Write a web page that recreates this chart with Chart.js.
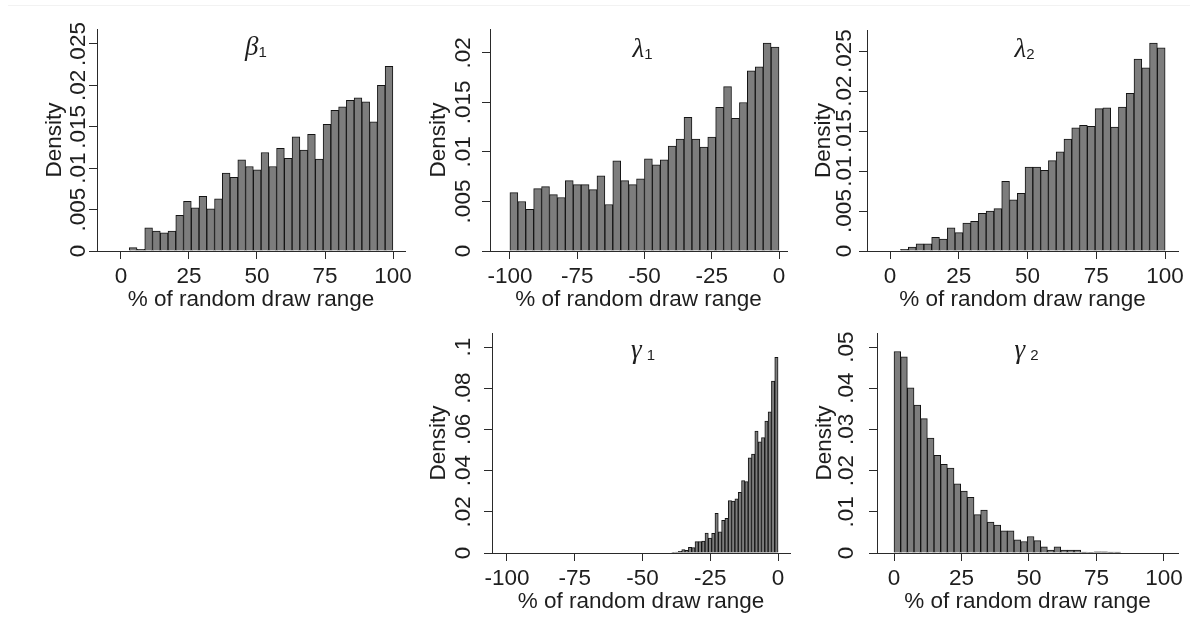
<!DOCTYPE html>
<html><head><meta charset="utf-8">
<script src="https://cdn.jsdelivr.net/npm/chart.js@4.4.1/dist/chart.umd.min.js"></script>
<style>
html,body{margin:0;padding:0;background:#fff;}
body{width:1198px;height:639px;position:relative;overflow:hidden;}
canvas{position:absolute;}
.topline{position:absolute;left:8px;top:5px;width:1182px;height:1px;background:#f2f2f2;}
</style></head><body>
<div class="topline"></div>
<canvas id="p1"></canvas>
<canvas id="p2"></canvas>
<canvas id="p3"></canvas>
<canvas id="p4"></canvas>
<canvas id="p5"></canvas>
<script>
// ---------- data (densities) ----------
const beta1Density = [0.0004, 0.0002, 0.0028, 0.0024, 0.0022, 0.0024, 0.0043, 0.0060, 0.0052, 0.0066,
  0.0051, 0.0063, 0.0094, 0.0089, 0.0110, 0.0102, 0.0098, 0.0119, 0.0102, 0.0124,
  0.0112, 0.0138, 0.0122, 0.0141, 0.0111, 0.0153, 0.0170, 0.0174, 0.0182, 0.0185,
  0.0180, 0.0156, 0.0200, 0.0223];
const beta1BinStart = 3.05, beta1BinWidth = 2.85;

const lambda1Density = [0.0059, 0.0050, 0.0042, 0.0063, 0.0065, 0.0057, 0.0054, 0.0071, 0.0067, 0.0067,
  0.0062, 0.0076, 0.0047, 0.0091, 0.0071, 0.0067, 0.0073, 0.0093, 0.0087, 0.0092,
  0.0106, 0.0113, 0.0135, 0.0113, 0.0105, 0.0115, 0.0145, 0.0166, 0.0134, 0.0150,
  0.0182, 0.0186, 0.0210, 0.0206];
const lambda1BinStart = -100, lambda1BinWidth = 2.941;

const lambda2Density = [0.0002, 0.0005, 0.0009, 0.0009, 0.0017, 0.0015, 0.0029, 0.0023, 0.0035, 0.0037,
  0.0047, 0.0050, 0.0053, 0.0087, 0.0064, 0.0072, 0.0105, 0.0105, 0.0101, 0.0113,
  0.0124, 0.0140, 0.0154, 0.0157, 0.0156, 0.0178, 0.0179, 0.0155, 0.0180, 0.0197,
  0.0240, 0.0229, 0.0260, 0.0254];
const lambda2BinStart = 3.8, lambda2BinWidth = 2.83;

const gamma1Density = [0.0003, 0.0005, 0.0008, 0.0016, 0.0013, 0.0027, 0.0026, 0.0055, 0.0055, 0.0058,
  0.0097, 0.0073, 0.0095, 0.0192, 0.0103, 0.0158, 0.0168, 0.0255, 0.0252, 0.0263,
  0.0295, 0.0352, 0.0347, 0.0462, 0.0480, 0.0592, 0.0540, 0.0560, 0.0640, 0.0685,
  0.0835, 0.0950];
const gamma1BinStart = -39.2, gamma1BinWidth = 1.225;

const gamma2Density = [0.0489, 0.0476, 0.0401, 0.0359, 0.0326, 0.0279, 0.0237, 0.0215, 0.0206, 0.0168,
  0.0150, 0.0135, 0.0093, 0.0104, 0.0075, 0.0068, 0.0054, 0.0054, 0.0032, 0.0028,
  0.0040, 0.0030, 0.0015, 0.0007, 0.0015, 0.0007, 0.0007, 0.0007, 0.0002, 0.0001,
  0.0003, 0.0003, 0.0002, 0.0002];
const gamma2BinStart = 0, gamma2BinWidth = 2.47;

const xTicksPos = [0, 25, 50, 75, 100];
const xTicksNeg = [-100, -75, -50, -25, 0];
const yTicksA = [0, 0.005, 0.01, 0.015, 0.02, 0.025];
const yLabelsA = ['0', '.005', '.01', '.015', '.02', '.025'];
const yTicksB = [0, 0.005, 0.01, 0.015, 0.02];
const yLabelsB = ['0', '.005', '.01', '.015', '.02'];
const yTicksC = [0, 0.02, 0.04, 0.06, 0.08, 0.1];
const yLabelsC = ['0', '.02', '.04', '.06', '.08', '.1'];
const yTicksD = [0, 0.01, 0.02, 0.03, 0.04, 0.05];
const yLabelsD = ['0', '.01', '.02', '.03', '.04', '.05'];
const xTitle = '% of random draw range';
const yTitle = 'Density';

// ---------- styles ----------
const TEXT = '#1e1e1e';
const AXIS = '#2a2a2a';
const BAR_FILL = '#7d7d7d';
const BAR_EDGE = '#141414';
const FONT = '"Liberation Sans", Arial, sans-serif';
const FS = 22.5;

Chart.defaults.font.family = FONT;
Chart.defaults.color = TEXT;

function binCenters(start, width, n) {
  const out = [];
  for (let i = 0; i < n; i++) out.push(start + (i + 0.5) * width);
  return out;
}

const yLabelPlugin = {
  id: 'yLabels',
  afterDraw(chart, args, opts) {
    const ctx = chart.ctx, s = chart.scales.y;
    ctx.save();
    ctx.fillStyle = TEXT;
    ctx.font = FS + 'px ' + FONT;
    ctx.textAlign = 'center';
    ctx.textBaseline = 'middle';
    s.ticks.forEach((t, i) => {
      const y = s.getPixelForValue(t.value);
      ctx.save();
      ctx.translate(chart.chartArea.left - opts.offset, y);
      ctx.rotate(-Math.PI / 2);
      ctx.fillText(opts.labels[i], 0, 0);
      ctx.restore();
    });
    ctx.restore();
  }
};

const panelTitlePlugin = {
  id: 'panelTitle',
  afterDraw(chart, args, o) {
    const ctx = chart.ctx, a = chart.chartArea;
    ctx.save();
    ctx.fillStyle = TEXT;
    ctx.textBaseline = 'alphabetic';
    const mainFont = 'italic 27px "Liberation Serif", "Times New Roman", serif';
    const subFont = '15px ' + FONT;
    ctx.font = mainFont; const w1 = ctx.measureText(o.symbol).width;
    ctx.font = subFont; const w2 = ctx.measureText(o.sub).width;
    const total = w1 + o.gap + w2;
    const x0 = (a.left + a.right) / 2 - total / 2 + o.dx;
    const yb = a.top + o.dy;
    ctx.textAlign = 'left';
    ctx.font = mainFont; ctx.fillText(o.symbol, x0, yb);
    ctx.font = subFont; ctx.fillText(o.sub, x0 + w1 + o.gap, yb + o.subDrop);
    ctx.restore();
  }
};

function makePanel(id, box, p) {
  const cv = document.getElementById(id);
  cv.width = box.w; cv.height = box.h;
  cv.style.left = box.x + 'px'; cv.style.top = box.y + 'px';
  const centers = binCenters(p.binStart, p.binWidth, p.values.length);
  const pts = p.values.map((v, i) => ({x: centers[i], y: v}));
  const LH = FS * 1.2;
  new Chart(cv, {
    type: 'bar',
    data: {datasets: [{
      data: pts,
      backgroundColor: BAR_FILL,
      borderColor: BAR_EDGE,
      borderWidth: 1,
      borderSkipped: 'start',
      barPercentage: 1,
      categoryPercentage: 1
    }]},
    options: {
      responsive: false,
      animation: false,
      devicePixelRatio: 1,
      events: [],
      layout: {padding: {left: 0, top: box.plotTop - box.y, right: box.x + box.w - box.plotRight, bottom: 0}},
      plugins: {
        legend: {display: false},
        tooltip: {enabled: false},
        yLabels: {labels: p.yLabels, offset: box.yLabOff},
        panelTitle: p.title
      },
      scales: {
        x: {
          type: 'linear', min: p.xMin, max: p.xMax, offset: false,
          afterBuildTicks: s => { s.ticks = p.xTicks.map(v => ({value: v})); },
          afterFit: s => { s.height = box.y + box.h - box.plotBottom; },
          ticks: {autoSkip: false, maxRotation: 0, minRotation: 0, padding: 4, color: TEXT,
                  font: {size: FS}, callback: v => String(v)},
          grid: {display: true, offset: false, drawOnChartArea: false, drawTicks: true, tickLength: 8,
                 tickWidth: 1, tickColor: AXIS},
          border: {display: true, color: AXIS, width: 1},
          title: {display: true, text: xTitle, color: TEXT, font: {size: FS},
                  padding: {top: 0, bottom: box.y + box.h - box.xTitleY - LH / 2}}
        },
        y: {
          type: 'linear', min: 0, max: p.yMax,
          afterBuildTicks: s => { s.ticks = p.yTicks.map(v => ({value: v})); },
          afterFit: s => { s.width = box.axisX - box.x; },
          ticks: {display: false},
          grid: {display: true, drawOnChartArea: false, drawTicks: true, tickLength: 8,
                 tickWidth: 1, tickColor: AXIS},
          border: {display: true, color: AXIS, width: 1},
          title: {display: true, text: yTitle, color: TEXT, font: {size: FS},
                  padding: {top: box.densX - box.x - LH / 2, bottom: 0}}
        }
      }
    },
    plugins: [yLabelPlugin, panelTitlePlugin]
  });
}

makePanel('p1',
  {x: 0, y: 0, w: 420, h: 321, axisX: 97, plotTop: 29, plotBottom: 251, plotRight: 405, yLabOff: 18, densX: 55, xTitleY: 300},
  {values: beta1Density, binStart: beta1BinStart, binWidth: beta1BinWidth, xMin: -8.8, xMax: 104.4, yMax: 0.02681,
   xTicks: xTicksPos, yTicks: yTicksA, yLabels: yLabelsA,
   title: {symbol: 'β', sub: '1', gap: 0, dx: 5, dy: 26, subDrop: 2}});

makePanel('p2',
  {x: 410, y: 0, w: 390, h: 321, axisX: 490, plotTop: 29, plotBottom: 251, plotRight: 787, yLabOff: 26, densX: 438.5, xTitleY: 300},
  {values: lambda1Density, binStart: lambda1BinStart, binWidth: lambda1BinWidth, xMin: -107.4, xMax: 2.97, yMax: 0.02242,
   xTicks: xTicksNeg, yTicks: yTicksB, yLabels: yLabelsB,
   title: {symbol: 'λ', sub: '1', gap: 0, dx: 4, dy: 28, subDrop: 2}});

makePanel('p3',
  {x: 800, y: 0, w: 398, h: 321, axisX: 867, plotTop: 30, plotBottom: 251, plotRight: 1178, yLabOff: 22.5, densX: 823.5, xTitleY: 300},
  {values: lambda2Density, binStart: lambda2BinStart, binWidth: lambda2BinWidth, xMin: -8.4, xMax: 104.7, yMax: 0.02763,
   xTicks: xTicksPos, yTicks: yTicksA, yLabels: yLabelsA,
   title: {symbol: 'λ', sub: '2', gap: 0, dx: 2, dy: 27, subDrop: 2}});

makePanel('p4',
  {x: 410, y: 310, w: 390, h: 313, axisX: 492, plotTop: 333, plotBottom: 553, plotRight: 790, yLabOff: 28.5, densX: 438.5, xTitleY: 602},
  {values: gamma1Density, binStart: gamma1BinStart, binWidth: gamma1BinWidth, xMin: -105.5, xMax: 4.4, yMax: 0.1068,
   xTicks: xTicksNeg, yTicks: yTicksC, yLabels: yLabelsC,
   title: {symbol: 'γ', sub: '1', gap: 5, dx: 2, dy: 25, subDrop: 2}});

makePanel('p5',
  {x: 800, y: 310, w: 398, h: 313, axisX: 877, plotTop: 333, plotBottom: 553, plotRight: 1178, yLabOff: 30, densX: 824.5, xTitleY: 602},
  {values: gamma2Density, binStart: gamma2BinStart, binWidth: gamma2BinWidth, xMin: -6.3, xMax: 105.2, yMax: 0.0534,
   xTicks: xTicksPos, yTicks: yTicksD, yLabels: yLabelsD,
   title: {symbol: 'γ', sub: '2', gap: 5, dx: -1, dy: 25, subDrop: 2}});
</script>
</body></html>
